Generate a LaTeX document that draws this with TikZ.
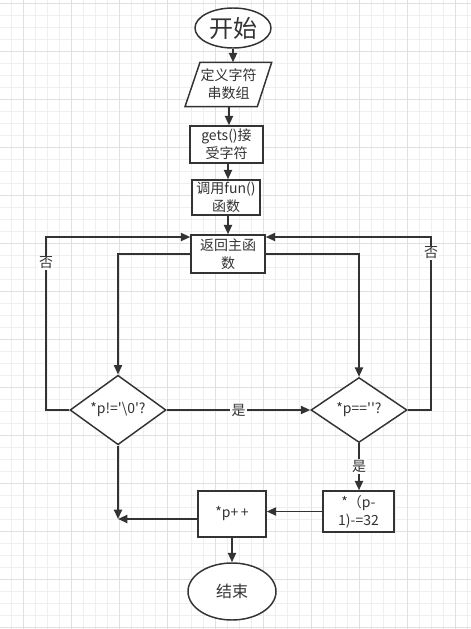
\documentclass[tikz,border=0pt]{standalone}
\usepackage{fontspec}
\newfontfamily\cjk{Noto Sans CJK SC}
\usetikzlibrary{arrows.meta,shapes.geometric}
\definecolor{ln}{HTML}{333333}
\definecolor{gminor}{HTML}{EFEFEF}
\definecolor{gmajor}{HTML}{E0E0E0}
\begin{document}
\begin{tikzpicture}[x=0.75pt,y=-0.75pt,
  shp/.style={draw=ln,line width=1.1pt,fill=white,text=ln,align=center,inner sep=0pt,
    font=\cjk\fontsize{10.5}{13.5}\selectfont},
  boxn/.style={shp,rectangle},
  ell/.style={shp,ellipse},
  dia/.style={shp,diamond,minimum width=72pt,minimum height=48.75pt},
  txt/.style={text=ln,align=center,inner sep=0pt,font=\cjk\fontsize{10.5}{13.5}\selectfont},
  lbl/.style={text=ln,fill=white,inner sep=1pt,font=\cjk\fontsize{10.5}{13.5}\selectfont},
  arr/.style={draw=ln,line width=1.4pt,-{Triangle[length=7pt,width=6pt]}},
  con/.style={draw=ln,line width=1.4pt}]
\useasboundingbox (0,0) rectangle (471,629);
\fill[white] (0,0) rectangle (471,629);
\foreach \x in {11.3,23.3,...,471} \draw[gminor,line width=0.6pt] (\x,0) -- (\x,629);
\foreach \y in {3.3,15.3,...,629} \draw[gminor,line width=0.6pt] (0,\y) -- (471,\y);
\foreach \x in {23.3,71.3,...,471} \draw[gmajor,line width=0.6pt] (\x,0) -- (\x,629);
\foreach \y in {3.3,51.3,...,629} \draw[gmajor,line width=0.6pt] (0,\y) -- (471,\y);

% nodes
\node[ell,minimum width=57pt,minimum height=30pt,font=\cjk\fontsize{18}{20}\selectfont] (start) at (233,28) {开始};
\draw[draw=ln,line width=1.1pt,fill=white] (200,62.3) -- (271.7,62.3) -- (257.3,106.7) -- (185,106.7) -- cycle;
\node[txt,minimum width=54pt,minimum height=33.3pt] (para) at (228.5,84.5) {定义字符\\串数组};
\node[boxn,minimum width=54.75pt,minimum height=27.75pt] (gets) at (226.5,144.5) {gets()接\\受字符};
\node[boxn,minimum width=51pt,minimum height=26.25pt] (fun) at (226,197.5) {调用fun()\\函数};
\node[boxn,minimum width=55.5pt,minimum height=28.5pt] (ret) at (228,254) {返回主函\\数};
\node[dia] (d1) at (118,410) {*p!=\char"0027\textbackslash 0\char"0027?};
\node[dia] (d2) at (359,410) {*p==\char"0027\char"0027?};
\node[boxn,minimum width=53.25pt,minimum height=30.75pt] (sub) at (358.5,511.5) {*（p-\\1)-=32};
\node[boxn,minimum width=51pt,minimum height=34.5pt] (pinc) at (232,514) {*p+\,+};
\node[ell,minimum width=66pt,minimum height=42.75pt,font=\cjk\fontsize{12}{14}\selectfont] (end) at (232,591.5) {结束};

\coordinate (lA) at (46,237);
\coordinate (rA) at (431,237);
\coordinate (J) at (118,519);

% connectors
\draw[arr] (start.south -| 233,0) -- (233,62.3);
\draw[arr] (para.south -| 229,0) -- (gets.north -| 229,0);
\draw[arr] (gets.south -| 228,0) -- (fun.north -| 228,0);
\draw[arr] (fun.south -| 228,0) -- (ret.north -| 228,0);
\draw[arr] (ret.west) -| (d1.north);
\draw[arr] (ret.east) -| (d2.north);
\draw[arr] (d1.east) -- (d2.west) node[lbl,midway] (y1) {是};
\draw[arr] (d1.west) -| (lA) -- (lA -| ret.west);
\draw[arr] (d2.east) -| (rA) -- (rA -| ret.east);
\node[lbl] (n1) at (46,263) {否};
\node[lbl] (n2) at (431,253) {否};
\draw[arr] (d2.south) -- (sub.north -| d2.south) node[lbl,pos=0.5] (y2) {是};
\draw[arr] (sub.west) -- (sub.west -| pinc.east);
\draw[arr] (d1.south) -- (J);
\draw[arr] (J -| pinc.west) -- (J);
\draw[arr] (pinc.south) -- (end.north);
\end{tikzpicture}
\end{document}
